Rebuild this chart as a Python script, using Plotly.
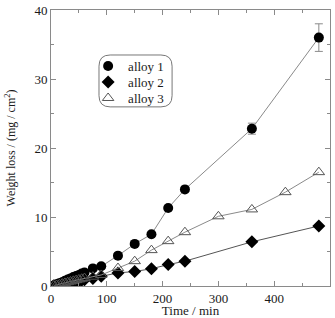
import plotly.graph_objects as go

t1 = [5, 10, 15, 20, 25, 30, 35, 40, 45, 50, 55, 60, 75, 90, 120, 150, 180, 210, 240, 360, 480]
w1 = [0.1, 0.25, 0.4, 0.55, 0.75, 0.95, 1.1, 1.3, 1.45, 1.6, 1.8, 1.95, 2.55, 2.85, 4.4, 6.1, 7.5, 11.3, 14.0, 22.8, 36.0]
e1 = [0, 0, 0, 0, 0, 0, 0, 0, 0, 0, 0, 0, 0, 0, 0, 0, 0, 0, 0.2, 0.8, 2.0]

t2 = [5, 10, 15, 20, 25, 30, 35, 40, 45, 50, 55, 60, 75, 90, 120, 150, 180, 210, 240, 360, 480]
w2 = [0.05, 0.12, 0.2, 0.28, 0.36, 0.45, 0.52, 0.6, 0.68, 0.75, 0.82, 0.9, 1.1, 1.4, 1.9, 2.1, 2.5, 3.1, 3.6, 6.4, 8.7]

t3 = [5, 10, 15, 20, 25, 30, 35, 40, 45, 50, 55, 60, 75, 90, 120, 150, 180, 210, 240, 300, 360, 420, 480]
w3 = [0.07, 0.15, 0.25, 0.35, 0.45, 0.55, 0.65, 0.75, 0.85, 0.95, 1.05, 1.15, 1.35, 1.6, 2.6, 3.6, 5.2, 6.5, 7.8, 10.1, 11.1, 13.6, 16.5]

names = ["alloy 1", "alloy 2", "alloy 3"]

LINE = "#8a8a8a"
INK = "#1a1a1a"
FONT = "Liberation Serif, Times New Roman, serif"

m1 = dict(symbol="circle", size=10, color="black")
m2 = dict(symbol="diamond", size=10, color="black")
m3 = dict(symbol="triangle-up-open", size=10, color="#555555", line=dict(width=1))

fig = go.Figure()
fig.add_trace(go.Scatter(
    x=t1, y=w1, name=names[0], mode="lines+markers", showlegend=False,
    line=dict(color=LINE, width=1), marker=m1,
    error_y=dict(type="data", array=e1, color=LINE, thickness=1, width=4),
))
fig.add_trace(go.Scatter(
    x=t2, y=w2, name=names[1], mode="lines+markers", showlegend=False,
    line=dict(color="#555555", width=1), marker=m2,
))
fig.add_trace(go.Scatter(
    x=t3, y=w3, name=names[2], mode="lines+markers", showlegend=False,
    line=dict(color=LINE, width=1), marker=m3,
))

# legend entries (markers only), one legend per row
for i, (nm, mk) in enumerate(zip(names, [m1, m2, m3])):
    lg = "legend" if i == 0 else f"legend{i + 1}"
    fig.add_trace(go.Scatter(x=[None], y=[None], name=nm, mode="markers",
                             marker=mk, showlegend=True, legend=lg))

axis_common = dict(
    showline=True, linecolor=LINE, linewidth=1, mirror="ticks",
    ticks="inside", ticklen=5, tickcolor=LINE, showgrid=False, zeroline=False,
    tickfont=dict(family=FONT, size=13, color=INK), automargin=False,
)

fig.update_xaxes(range=[0, 500], dtick=100, tick0=0,
                 minor=dict(ticks="inside", ticklen=3, dtick=50, tickcolor=LINE),
                 title=dict(text="Time / min", font=dict(family=FONT, size=13, color=INK), standoff=5),
                 **axis_common)
fig.update_yaxes(range=[0, 40], dtick=10, tick0=0,
                 minor=dict(ticks="inside", ticklen=3, dtick=5, tickcolor=LINE),
                 title=dict(text="Weight loss / (mg / cm<sup>2</sup>)", font=dict(family=FONT, size=12, color=INK), standoff=16),
                 **axis_common)

# rounded legend frame
x0, x1, y0, y1, r = 0.172, 0.434, 0.649, 0.837, 0.04
ry = r * 279 / 276
path = (f"M {x0 + r},{y0} L {x1 - r},{y0} Q {x1},{y0} {x1},{y0 + ry} "
        f"L {x1},{y1 - ry} Q {x1},{y1} {x1 - r},{y1} L {x0 + r},{y1} "
        f"Q {x0},{y1} {x0},{y1 - ry} L {x0},{y0 + ry} Q {x0},{y0} {x0 + r},{y0} Z")
fig.add_shape(type="path", path=path, xref="paper", yref="paper",
              line=dict(color="#777777", width=1))

leg_common = dict(x=0.133, xanchor="left", yanchor="middle",
                  bgcolor="rgba(0,0,0,0)", borderwidth=0,
                  font=dict(family=FONT, size=13, color=INK), itemwidth=30)

fig.update_layout(
    width=335, height=318,
    margin=dict(l=51, r=5, t=10, b=32),
    paper_bgcolor="white", plot_bgcolor="white",
    font=dict(family=FONT, color=INK),
    legend=dict(y=0.797, **leg_common),
    legend2=dict(y=0.739, **leg_common),
    legend3=dict(y=0.681, **leg_common),
)

fig.write_html("out.html")
